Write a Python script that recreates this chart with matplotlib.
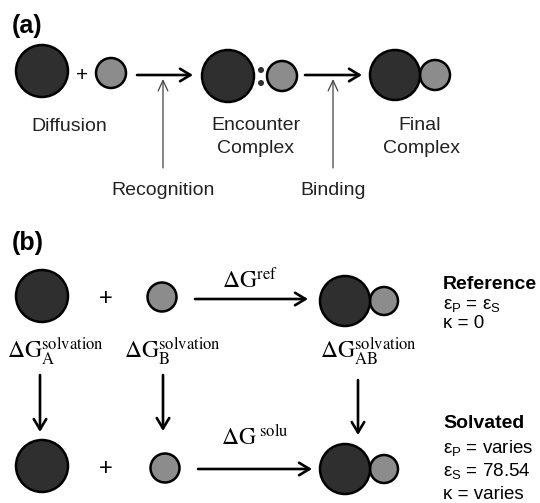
import matplotlib.pyplot as plt
from matplotlib.patches import Circle

plt.rcParams['font.family'] = ['Liberation Sans', 'DejaVu Sans']
plt.rcParams['mathtext.fontset'] = 'custom'
plt.rcParams['mathtext.rm'] = 'Liberation Sans'
plt.rcParams['mathtext.it'] = 'Liberation Sans'

dark = '#2f2f2f'
grey = '#8c8c8c'

# circles (pixel space, y downwards)
big_x = [42, 228, 395, 42, 345, 42, 345]
big_y = [71, 76, 75, 296, 301, 466, 469]
big_r = [26, 26, 25, 26, 25, 26, 25]
small_x = [111, 282, 435, 162, 384, 165, 384]
small_y = [73, 76, 75, 297, 301, 468, 469]
small_r = [15, 15, 15, 14.5, 14, 14.5, 14]
colon_x = [261, 261]
colon_y = [70, 83]

# panel (a) labels
a_labels = ['Diffusion', 'Encounter', 'Complex', 'Final', 'Complex']
a_label_x = [69, 256, 256, 420, 421]
a_label_y = [131, 130, 153, 130, 153]
step_labels = ['Recognition', 'Binding']
step_x = [163, 333]

# panel (b) labels
dg_labels = [r'$\Delta\mathrm{G}^{\mathrm{ref}}$', r'$\Delta\mathrm{G}^{\ \mathrm{solu}}$']
solv_labels = [r'$\Delta\mathrm{G}^{\mathrm{solvation}}_{\mathrm{A}}$',
               r'$\Delta\mathrm{G}^{\mathrm{solvation}}_{\mathrm{B}}$',
               r'$\Delta\mathrm{G}^{\mathrm{solvation}}_{\mathrm{AB}}$']
solv_x = [7, 124, 320]
ref_lines = [r'ε$_\mathrm{P}$ = ε$_\mathrm{S}$', 'κ = 0']
solu_lines = [r'ε$_\mathrm{P}$ = varies', r'ε$_\mathrm{S}$ = 78.54', 'κ = varies']

fig = plt.figure(figsize=(5.4, 5.03), dpi=100)
ax = fig.add_axes([0, 0, 1, 1])
ax.set_xlim(0, 540)
ax.set_ylim(503, 0)
ax.axis('off')

for x, y, r in zip(big_x, big_y, big_r):
    ax.add_patch(Circle((x, y), r, facecolor=dark, edgecolor='black', lw=1.8, zorder=3))
for x, y, r in zip(small_x, small_y, small_r):
    ax.add_patch(Circle((x, y), r, facecolor=grey, edgecolor='black', lw=1.8, zorder=2))
for x, y in zip(colon_x, colon_y):
    ax.add_patch(Circle((x, y), 3, facecolor=dark, edgecolor='none'))

def arrow(x0, y0, x1, y1, lw=1.9, hw=0.45, hl=0.75, color='black'):
    ax.annotate('', xy=(x1, y1), xytext=(x0, y0),
                arrowprops=dict(arrowstyle=f'->,head_width={hw},head_length={hl}',
                                lw=lw, color=color, shrinkA=0, shrinkB=0))

# panel (a)
ax.text(12, 33, '(a)', fontsize=18, fontweight='bold', ha='left', va='baseline')
ax.text(82, 75, '+', fontsize=15, ha='center', va='center')
arrow(137, 75, 193, 75)
arrow(305, 75, 362, 75)
for x in step_x:
    arrow(x, 168, x, 79, lw=0.9, hw=0.35, hl=0.75, color='#444444')
for s, x, y in zip(a_labels, a_label_x, a_label_y):
    ax.text(x, y, s, fontsize=14, ha='center', va='baseline', color='#222222')
for s, x in zip(step_labels, step_x):
    ax.text(x, 195, s, fontsize=14, ha='center', va='baseline', color='#222222')

# panel (b)
ax.text(12, 250, '(b)', fontsize=18, fontweight='bold', ha='left', va='baseline')
ax.text(106, 299, '+', fontsize=17, ha='center', va='center')
ax.text(106, 469, '+', fontsize=17, ha='center', va='center')
arrow(195, 299, 308, 299)
arrow(198, 469, 312, 469)
ax.text(250, 288, dg_labels[0], fontsize=17, ha='center', va='baseline', math_fontfamily='stix')
ax.text(255, 445, dg_labels[1], fontsize=17, ha='center', va='baseline', math_fontfamily='stix')
for s, x in zip(solv_labels, solv_x):
    ax.text(x, 358, s, fontsize=17, ha='left', va='baseline', math_fontfamily='stix')
arrow(40, 375, 40, 432)
arrow(163, 375, 163, 431)
arrow(358, 380, 358, 435)

ax.text(443, 289, 'Reference', fontsize=14, fontweight='bold', ha='left', va='baseline')
for i, s in enumerate(ref_lines):
    ax.text(443, 309 + i * 19, s, fontsize=13.5, ha='left', va='baseline')
ax.text(443, 428, 'Solvated', fontsize=14, fontweight='bold', ha='left', va='baseline')
for i, s in enumerate(solu_lines):
    ax.text(443, 453 + i * 23, s, fontsize=13.5, ha='left', va='baseline')

fig.savefig('out.png', dpi=100)
